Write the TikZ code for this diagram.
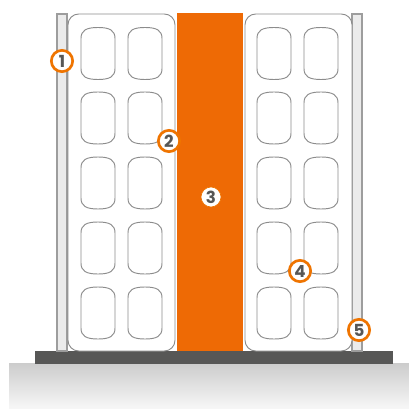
\documentclass[tikz,border=0pt]{standalone}
\usepackage{fontspec}
\setmainfont{Poppins}
\definecolor{org}{HTML}{EE6A05}
\definecolor{ringc}{HTML}{EF7400}
\definecolor{dk}{HTML}{575756}
\definecolor{ln}{HTML}{8C8C8C}
\tikzset{
 x=0.75pt,y=-0.75pt,
 post/.style={draw=ln!85,fill=black!8,line width=0.9pt},
 panel/.style={draw=ln,fill=white,line width=0.7pt,rounded corners=8pt},
 cell/.style={draw=ln,fill=white,line width=0.7pt},
 badge/.style={circle,draw=ringc,fill=white,line width=2pt,minimum size=16pt,inner sep=0pt,text=dk,font=\bfseries\fontsize{12.5}{12.5}\selectfont},
 badgeb/.style={circle,draw=ringc,fill=white,line width=0.5pt,minimum size=15pt,inner sep=0pt,text=dk,font=\bfseries\fontsize{12.5}{12.5}\selectfont}
}
\begin{document}
\begin{tikzpicture}
\useasboundingbox (0,0) rectangle (409,409);
\shade[top color=black!20,bottom color=black!3] (9,363) rectangle (409,409);
\fill[dk] (35,351) rectangle (393,364);
\draw[post] (57,14) rectangle (67,351);
\draw[post] (352,14) rectangle (362,351);
\draw[panel] (68,351) rectangle (175,14);
\draw[panel] (245,351) rectangle (352,14);
\fill[org] (177,13) rectangle (243,351);
\foreach \y in {27.5,92,157,222,287}{
 \foreach \x in {81,128,257,304}{
  \draw[cell] (\x,\y+11) .. controls (\x,\y+3) and (\x+5,\y) .. (\x+17,\y)
     .. controls (\x+29,\y) and (\x+34,\y+3) .. (\x+34,\y+11)
     -- (\x+34,\y+41) .. controls (\x+34,\y+49) and (\x+29,\y+52) .. (\x+17,\y+52)
     .. controls (\x+5,\y+52) and (\x,\y+49) .. (\x,\y+41) -- cycle;
 }
}
\node[badge] (n1) at (62,61) {1};
\node[badge] (n2) at (169,141) {2};
\node[badgeb] (n3) at (211,197) {3};
\node[badge] (n4) at (300,271) {4};
\node[badge] (n5) at (359,330) {5};
\end{tikzpicture}
\end{document}
